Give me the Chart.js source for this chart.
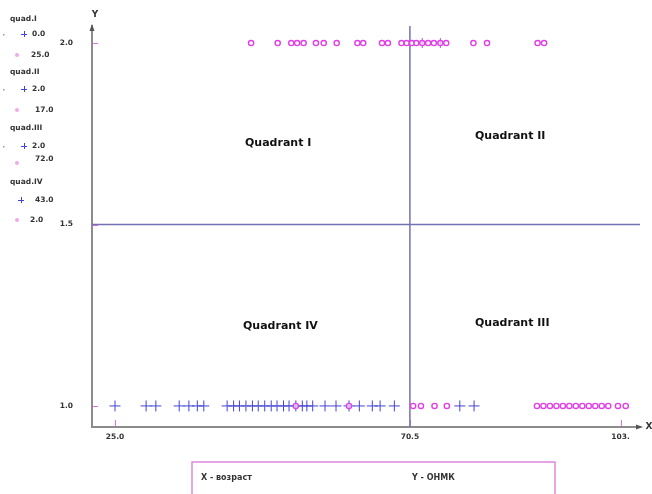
<!DOCTYPE html>
<html><head><meta charset="utf-8">
<script src="https://cdn.jsdelivr.net/npm/chart.js@4/dist/chart.umd.min.js"></script>
<style>html,body{margin:0;padding:0;background:#fff;}canvas{display:block;}</style>
</head><body>
<canvas id="c" width="652" height="494"></canvas>
<script>
// ---- data ----
const xTickValues = [25, 70.5, 103];
const xTickLabels = ['25.0', '70.5', '103.'];
const yTickValues = [1.0, 1.5, 2.0];
const yTickLabels = ['1.0', '1.5', '2.0'];
const splitX = 70.5;
const splitY = 1.5;
const quadrantNames = ['quad.I', 'quad.II', 'quad.III', 'quad.IV'];
const plusCounts = ['0.0', '2.0', '2.0', '43.0'];
const circleCounts = ['25.0', '17.0', '72.0', '2.0'];
const quadrantTitles = ['Quadrant I', 'Quadrant II', 'Quadrant III', 'Quadrant IV'];
const axisNotes = ['X - возраст', 'Y - ОНМК'];

// ages of circle marks at ОНМК = 2.0
const circleAgesTop = [46.0, 50.1, 52.2, 53.1, 54.1, 56.0, 57.2, 59.2, 62.4, 63.3, 66.2, 67.1,
  69.2, 70.0, 70.8, 71.5, 72.4, 73.3, 74.2, 75.2, 76.1, 80.3, 82.4, 90.2, 91.2];
// ages of plus marks at ОНМК = 2.0
const plusAgesTop = [72.4, 75.2];
// ages of plus marks at ОНМК = 1.0
const plusAgesBottom = [25.0, 29.8, 31.3, 34.9, 36.4, 37.7, 38.7,
  42.3, 43.3, 44.2, 45.2, 46.2, 47.1, 48.1, 49.1, 50.0, 51.0,
  51.85, 52.9, 53.9, 54.6, 55.5, 57.4, 59.1, 61.1, 62.7, 64.7, 65.9, 68.1, 78.2, 80.4];
// ages of circle marks at ОНМК = 1.0
const circleAgesBottom = [52.9, 61.1, 71.0, 72.2, 74.3, 76.2,
  90.1, 91.1, 92.1, 93.1, 94.1, 95.1, 96.1, 97.1, 98.1, 99.1, 100.1, 101.1, 102.6, 103.8];

const toPts = (ages, y) => ages.map(a => ({x: a, y: y}));

const BLUE = '#4444d4';
const MAG = '#e040e6';
const LINE = '#7272b0';
const TXT = '#333333';

const decor = {
  id: 'decor',
  beforeDatasetsDraw(chart) {
    const {ctx, chartArea: a, scales: {x, y}} = chart;
    ctx.save();
    ctx.strokeStyle = '#e070e0';
    ctx.lineWidth = 1;
    yTickValues.forEach(v => {
      const py = Math.round(y.getPixelForValue(v)) + 0.5;
      ctx.beginPath(); ctx.moveTo(a.left + 1, py); ctx.lineTo(a.left + 6, py); ctx.stroke();
    });
    xTickValues.forEach(v => {
      const px = Math.round(x.getPixelForValue(v)) + 0.5;
      ctx.beginPath(); ctx.moveTo(px, a.bottom - 1); ctx.lineTo(px, a.bottom - 7); ctx.stroke();
    });
    ctx.strokeStyle = LINE;
    ctx.lineWidth = 1.5;
    const vx = x.getPixelForValue(splitX);
    ctx.beginPath(); ctx.moveTo(vx, a.top); ctx.lineTo(vx, a.bottom); ctx.stroke();
    const hy = y.getPixelForValue(splitY);
    ctx.beginPath(); ctx.moveTo(a.left, hy); ctx.lineTo(a.right, hy); ctx.stroke();
    ctx.restore();
  },
  afterDraw(chart) {
    const {ctx, chartArea: a} = chart;
    ctx.save();
    ctx.fillStyle = '#555';
    ctx.beginPath();
    ctx.moveTo(a.left, a.top - 2); ctx.lineTo(a.left - 2.5, a.top + 5); ctx.lineTo(a.left + 2.5, a.top + 5); ctx.closePath(); ctx.fill();
    ctx.beginPath();
    ctx.moveTo(a.right + 3, a.bottom); ctx.lineTo(a.right - 4, a.bottom - 2.5); ctx.lineTo(a.right - 4, a.bottom + 2.5); ctx.closePath(); ctx.fill();
    ctx.fillStyle = TXT;
    ctx.font = 'bold 9px "DejaVu Sans"';
    ctx.textAlign = 'center'; ctx.textBaseline = 'middle';
    ctx.fillText('Y', a.left + 3, 15);
    ctx.fillText('X', a.right + 9, a.bottom);

    ctx.font = 'bold 11px "DejaVu Sans"';
    ctx.textAlign = 'left';
    ctx.fillStyle = '#111';
    ctx.fillText(quadrantTitles[0], 245, 143);
    ctx.fillText(quadrantTitles[1], 475, 136);
    ctx.fillText(quadrantTitles[2], 475, 323);
    ctx.fillText(quadrantTitles[3], 243, 326);

    ctx.font = 'bold 7.5px "DejaVu Sans"';
    ctx.fillStyle = TXT;
    const rows = [
      [19, 34, 55], [72, 89, 110], [128, 146, 163], [182, 200, 220]
    ];
    const circleTextY = [55, 110, 159, 220];
    const circleTextX = [31, 35, 35, 30];
    const plusTextX = [32, 32, 32, 35];
    const plusX = [24, 24, 24, 21];
    quadrantNames.forEach((nm, i) => {
      const r = rows[i];
      ctx.fillStyle = TXT;
      ctx.textAlign = 'left';
      ctx.fillText(nm, 10, r[0]);
      ctx.fillText(plusCounts[i], plusTextX[i], r[1]);
      ctx.fillText(circleCounts[i], circleTextX[i], circleTextY[i]);
      ctx.strokeStyle = BLUE; ctx.lineWidth = 1;
      ctx.beginPath();
      ctx.moveTo(plusX[i] - 3, r[1] + 0.5); ctx.lineTo(plusX[i] + 3, r[1] + 0.5);
      ctx.moveTo(plusX[i] + 0.5, r[1] - 3); ctx.lineTo(plusX[i] + 0.5, r[1] + 3);
      ctx.stroke();
      if (i < 3) { ctx.fillStyle = '#999'; ctx.fillRect(3, r[1], 1.5, 1.5); }
      ctx.fillStyle = '#f0a8ee';
      ctx.beginPath(); ctx.arc(17, r[2], 2, 0, Math.PI * 2); ctx.fill();
    });

    ctx.strokeStyle = '#e088e0';
    ctx.lineWidth = 1.5;
    ctx.strokeRect(192, 462, 363, 34);
    ctx.fillStyle = TXT;
    ctx.font = 'bold 8px "DejaVu Sans"';
    ctx.textAlign = 'left';
    ctx.fillText(axisNotes[0], 201, 478);
    ctx.fillText(axisNotes[1], 412, 478);
    ctx.restore();
  }
};

new Chart(document.getElementById('c'), {
  type: 'scatter',
  data: {
    datasets: [
      {data: toPts(circleAgesTop, 2.0), pointStyle: 'circle', radius: 2.6, borderColor: MAG, borderWidth: 1.4, backgroundColor: 'rgba(255,255,255,0.6)'},
      {data: toPts(circleAgesBottom, 1.0), pointStyle: 'circle', radius: 2.6, borderColor: MAG, borderWidth: 1.4, backgroundColor: 'rgba(255,255,255,0.6)'},
      {data: toPts(plusAgesTop, 2.0), pointStyle: 'cross', radius: 5, borderColor: '#a060d8', borderWidth: 1},
      {data: toPts(plusAgesBottom, 1.0), pointStyle: 'cross', radius: 5.5, borderColor: BLUE, borderWidth: 1}
    ]
  },
  options: {
    responsive: false,
    animation: false,
    events: [],
    layout: {padding: {top: 26, right: 12, left: 0, bottom: 0}},
    plugins: {legend: {display: false}, tooltip: {enabled: false}},
    scales: {
      x: {
        type: 'linear', min: 21.45, max: 106,
        afterFit: s => { s.height = 67; },
        afterBuildTicks: s => { s.ticks = xTickValues.map(v => ({value: v})); },
        grid: {display: false, drawTicks: false},
        border: {display: true, color: '#8c8c8c', width: 2},
        ticks: {autoSkip: false, maxRotation: 0, padding: 6, color: TXT,
          font: {family: 'DejaVu Sans', size: 7.5, weight: 'bold'},
          callback: (v, i) => xTickLabels[i]}
      },
      y: {
        type: 'linear', min: 0.942, max: 2.047,
        afterFit: s => { s.width = 92; },
        afterBuildTicks: s => { s.ticks = yTickValues.map(v => ({value: v})); },
        grid: {display: false, drawTicks: false},
        border: {display: true, color: '#8c8c8c', width: 2},
        ticks: {autoSkip: false, padding: 19, color: TXT,
          font: {family: 'DejaVu Sans', size: 7.5, weight: 'bold'},
          callback: (v, i) => yTickLabels[i]}
      }
    }
  },
  plugins: [decor]
});
</script>
</body></html>
